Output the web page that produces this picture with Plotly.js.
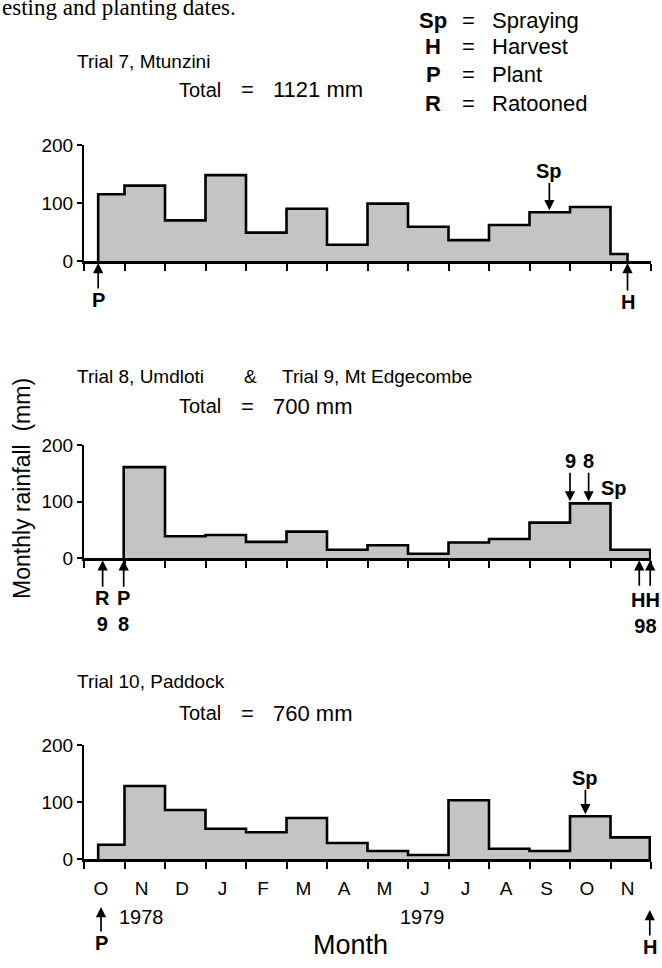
<!DOCTYPE html>
<html>
<head>
<meta charset="utf-8">
<script src="https://cdn.plot.ly/plotly-3.0.1.min.js"></script>
<style>html,body{margin:0;padding:0;background:#fff;}#chart{width:662px;height:968px;}</style>
</head>
<body>
<div id="chart"></div>
<script>
// ---------- data ----------
const months = ['O','N','D','J','F','M','A','M','J','J','A','S','O','N'];
const monthEdges = [0,1,2,3,4,5,6,7,8,9,10,11,12,13,14];
const yTicks = [0,100,200];

// Trial 7, Mtunzini (Oct 1978 .. Nov 1979), mm
const trial7Rain = [115,130,70,148,49,90,28,99,59,36,62,84,93,12];
const trial7Plant = 0.35, trial7Spray = 11.49, trial7Harvest = 13.42;
const trial7Total = 1121;

// Trial 8, Umdloti & Trial 9, Mt Edgecombe (Nov 1978 .. Nov 1979), mm
const trial89Rain = [161,39,41,29,47,15,23,8,28,34,63,97,15];
const trial89FirstMonth = 1;
const trial9Ratoon = 0.46, trial8Plant = 0.98;
const trial9Spray = 12.0, trial8Spray = 12.46;
const trial9Harvest = 13.71, trial8Harvest = 13.98;
const trial89Total = 700;

// Trial 10, Paddock (Oct 1978 .. Nov 1979), mm
const trial10Rain = [25,128,86,53,47,72,28,14,7,103,18,14,75,38];
const trial10Start = 0.35, trial10Plant = 0.42, trial10Spray = 12.38, trial10Harvest = 13.97;
const trial10Total = 760;

const years = ['1978','1979'];

// ---------- helpers ----------
const W = 662, H = 968;
const py = p => 1 - p / H;
const px = p => p / W;
const XDOM = [px(84), px(651)];
const NB = '\u00a0';
const REG = 'Liberation Sans, Arial, sans-serif';
const BOLD = 'Liberation Sans, Arial, sans-serif';
const FILL = '#c4c4c4';

function step(vals, first, start, end) {
  const xs = [start, start], ys = [0, vals[0]];
  for (let i = 1; i < vals.length; i++) { xs.push(first + i); ys.push(vals[i]); }
  xs.push(end); ys.push(vals[vals.length - 1]);
  xs.push(end); ys.push(0);
  return {xs, ys};
}
function stepTrace(vals, first, start, end, xa, ya) {
  const s = step(vals, first, start, end);
  return {x: s.xs, y: s.ys, xaxis: xa, yaxis: ya, type: 'scatter', mode: 'lines',
    line: {shape: 'hv', color: '#000', width: 2.6}, fill: 'tozeroy', fillcolor: FILL,
    hoverinfo: 'skip', showlegend: false, cliponaxis: false};
}
const s1 = stepTrace(trial7Rain, 0, trial7Plant, trial7Harvest, 'x', 'y');
const s2 = stepTrace(trial89Rain, trial89FirstMonth, trial8Plant, trial8Harvest, 'x2', 'y2');
const s3 = stepTrace(trial10Rain, 0, trial10Start, trial10Harvest, 'x3', 'y3');
const dummy = {x: [0], y: [0], xaxis: 'x4', yaxis: 'y3', mode: 'markers', marker: {opacity: 0},
  hoverinfo: 'skip', showlegend: false, type: 'scatter'};

function xa(anchor) {
  return {domain: XDOM, range: [0, 14], anchor: anchor, tickmode: 'array', tickvals: monthEdges,
    showticklabels: false, ticks: 'outside', ticklen: 7, tickwidth: 2, tickcolor: '#000',
    showline: true, linecolor: '#000', linewidth: 2.6, showgrid: false, zeroline: false, fixedrange: true};
}
function ya(anchor, dom) {
  return {domain: dom, range: [0, 200], anchor: anchor, tickmode: 'array', tickvals: yTicks,
    ticks: 'outside', ticklen: 5, tickwidth: 2, tickcolor: '#000', showline: true, linecolor: '#000',
    linewidth: 2, showgrid: false, zeroline: false, tickfont: {family: REG, size: 19, color: '#000'},
    fixedrange: true};
}

const ann = [];
function txt(text, x, y, xanchor, size, family, extra) {
  ann.push(Object.assign({text: text, xref: 'paper', yref: 'paper', x: px(x), y: py(y),
    xanchor: xanchor, yanchor: 'middle', showarrow: false,
    font: {family: family || REG, size: size, color: '#000'}}, extra || {}));
}
function btxt(text, x, y, size) {
  txt(text, x, y, 'center', size, BOLD, {font: {family: BOLD, size: size, color: '#000', weight: 700}});
}
function arrow(text, x, y, xref, yref, ay) {
  ann.push({text: text, x: x, y: y, xref: xref, yref: yref, ax: 0, ay: ay, showarrow: true,
    arrowhead: 2, arrowsize: 1.2, arrowwidth: 1.7, arrowcolor: '#000', standoff: 2,
    font: {family: BOLD, size: 20, color: '#000', weight: 700}, borderpad: 0});
}

// caption fragment
txt('esting and planting dates.', 0, 8, 'left', 23, 'Liberation Serif, Times New Roman, serif');
// legend block
const legSym = ['Sp','H','P','R'];
const legText = ['Spraying','Harvest','Plant','Ratooned'];
const legY = [20, 47, 75, 103];
for (let i = 0; i < 4; i++) {
  btxt(legSym[i], 433, legY[i], 22);
  txt('=', 468, legY[i], 'center', 22, REG);
  txt(legText[i], 490, legY[i], 'left', 22, REG);
}
// panel titles
function totalLine(value, y) {
  txt('Total', 177, y, 'left', 20);
  txt('=', 247, y, 'center', 22);
  txt(value + NB + 'mm', 271, y, 'left', 22);
}
txt('Trial 7, Mtunzini', 75, 62, 'left', 19);
totalLine(trial7Total, 90);
txt('Trial 8, Umdloti', 75, 376, 'left', 19);
txt('&', 250, 376, 'center', 19);
txt('Trial 9, Mt Edgecombe', 280, 376, 'left', 19);
totalLine(trial89Total, 406);
txt('Trial 10, Paddock', 75, 681, 'left', 19);
totalLine(trial10Total, 713);
// y title
txt('Monthly' + NB + 'rainfall' + NB + NB + '(mm)', 22, 489, 'center', 23, REG, {textangle: -90});
// years & x title
txt(years[0], 117, 917, 'left', 20);
txt(years[1], 423, 917, 'center', 20);
txt('Month', 350, 945, 'center', 27);

// panel 1 events
arrow('P', trial7Plant, 0, 'x', 'y', 39);
arrow('H', trial7Harvest, 0, 'x', 'y', 41);
arrow('Sp', trial7Spray, trial7Rain[11], 'x', 'y', -41);
// panel 2 events
arrow('R<br>9', trial9Ratoon, 0, 'x2', 'y2', 53);
arrow('P<br>8', trial8Plant, 0, 'x2', 'y2', 53);
arrow('9', trial9Spray, trial89Rain[11], 'x2', 'y2', -42);
arrow('8', trial8Spray, trial89Rain[11], 'x2', 'y2', -42);
btxt('Sp', 614, 488, 20);
arrow('', trial9Harvest, 0, 'x2', 'y2', 28);
arrow('', trial8Harvest, 0, 'x2', 'y2', 28);
btxt('HH<br>98', 645, 613, 20);
// panel 3 events
arrow('Sp', trial10Spray, trial10Rain[12], 'x3', 'y3', -38);
arrow('P', trial10Plant, py(905), 'x3', 'paper', 38);
arrow('H', trial10Harvest, py(908), 'x3', 'paper', 39);

const monthCenters = monthEdges.slice(0, 14).map(v => v + 0.42);

const layout = {
  width: W, height: H, margin: {l: 0, r: 0, t: 0, b: 0},
  paper_bgcolor: '#fff', plot_bgcolor: 'rgba(0,0,0,0)', showlegend: false, hovermode: false,
  xaxis: xa('y'), yaxis: ya('x', [py(261), py(145)]),
  xaxis2: xa('y2'), yaxis2: ya('x2', [py(558.3), py(445)]),
  xaxis3: xa('y3'), yaxis3: ya('x3', [py(859), py(745)]),
  xaxis4: {overlaying: 'x3', anchor: 'y3', range: [0, 14], tickmode: 'array', tickvals: monthCenters,
    ticktext: months, ticks: 'outside', ticklen: 12, tickcolor: 'rgba(0,0,0,0)', showline: false,
    showgrid: false, zeroline: false, tickfont: {family: REG, size: 19, color: '#000'}, fixedrange: true},
  annotations: ann
};
Plotly.newPlot('chart', [s1, s2, s3, dummy], layout, {staticPlot: true, displayModeBar: false});
</script>
</body>
</html>
